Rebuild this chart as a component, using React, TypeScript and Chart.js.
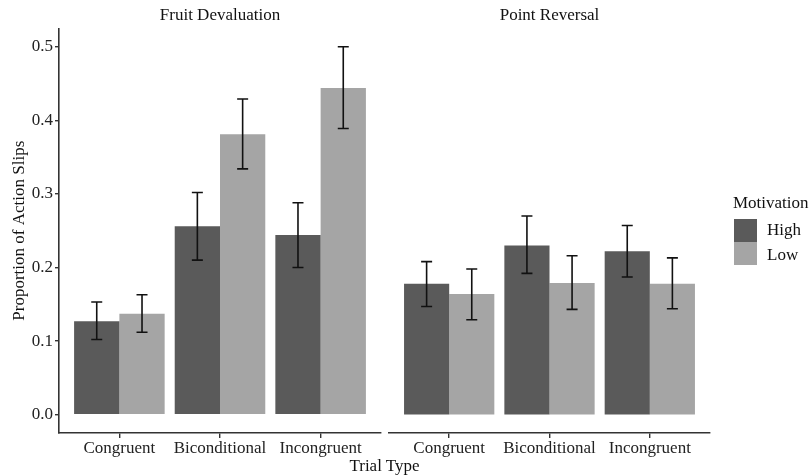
import React, { useEffect, useRef } from "react";
import { Chart, registerables } from "chart.js";

Chart.register(...registerables);

const categories = ["Congruent", "Biconditional", "Incongruent"];
const seriesNames = ["High", "Low"];
const panelTitles = ["Fruit Devaluation", "Point Reversal"];
const yTicks = [0, 0.1, 0.2, 0.3, 0.4, 0.5];

// Fruit Devaluation
const fruitHigh = [0.127, 0.256, 0.244];
const fruitHighLo = [0.102, 0.21, 0.2];
const fruitHighHi = [0.153, 0.302, 0.288];
const fruitLow = [0.137, 0.381, 0.444];
const fruitLowLo = [0.112, 0.334, 0.389];
const fruitLowHi = [0.163, 0.429, 0.5];

// Point Reversal
const pointHigh = [0.178, 0.23, 0.222];
const pointHighLo = [0.147, 0.192, 0.187];
const pointHighHi = [0.208, 0.27, 0.257];
const pointLow = [0.164, 0.179, 0.178];
const pointLowLo = [0.129, 0.143, 0.144];
const pointLowHi = [0.198, 0.216, 0.213];

const FONT = "'Liberation Serif', 'Times New Roman', serif";
const DARK = "#5a5a5a";
const LIGHT = "#a5a5a5";
const AXIS = "#333333";

const errorBarPlugin = {
  id: "errorBars",
  afterDatasetsDraw(chart: any) {
    const ctx = chart.ctx;
    const y = chart.scales.y;
    ctx.save();
    ctx.strokeStyle = "#111111";
    ctx.lineWidth = 1.6;
    chart.data.datasets.forEach((ds: any, i: number) => {
      const meta = chart.getDatasetMeta(i);
      meta.data.forEach((el: any, j: number) => {
        const lo = y.getPixelForValue(ds.errLo[j]);
        const hi = y.getPixelForValue(ds.errHi[j]);
        const x = el.x;
        const half = 5.5;
        ctx.beginPath();
        ctx.moveTo(x, lo);
        ctx.lineTo(x, hi);
        ctx.moveTo(x - half, lo);
        ctx.lineTo(x + half, lo);
        ctx.moveTo(x - half, hi);
        ctx.lineTo(x + half, hi);
        ctx.stroke();
      });
    });
    ctx.restore();
  },
};

function makeConfig(
  title: string,
  high: number[],
  highLo: number[],
  highHi: number[],
  low: number[],
  lowLo: number[],
  lowHi: number[],
  showY: boolean,
  padding: any
): any {
  const toPts = (arr: number[]) => arr.map((v, i) => ({ x: i, y: v }));
  return {
    type: "bar",
    data: {
      datasets: [
        {
          label: seriesNames[0],
          data: toPts(high),
          errLo: highLo,
          errHi: highHi,
          backgroundColor: DARK,
          borderWidth: 0,
          barPercentage: 1,
          categoryPercentage: 0.9,
        },
        {
          label: seriesNames[1],
          data: toPts(low),
          errLo: lowLo,
          errHi: lowHi,
          backgroundColor: LIGHT,
          borderWidth: 0,
          barPercentage: 1,
          categoryPercentage: 0.9,
        },
      ],
    },
    options: {
      animation: false,
      responsive: false,
      maintainAspectRatio: false,
      layout: { padding },
      plugins: {
        legend: { display: false },
        tooltip: { enabled: false },
        title: {
          display: true,
          text: title,
          fullSize: false,
          color: "#111111",
          font: { family: FONT, size: 17, weight: "normal" },
          padding: { top: 5, bottom: 3 },
        },
      },
      scales: {
        x: {
          type: "linear",
          offset: false,
          min: -0.6,
          max: 2.6,
          afterBuildTicks: (s: any) => {
            s.ticks = categories.map((_, i) => ({ value: i }));
          },
          afterFit: (s: any) => {
            s.height = 43;
          },
          ticks: {
            autoSkip: false,
            maxRotation: 0,
            padding: 0,
            color: "#222222",
            font: { family: FONT, size: 17 },
            callback: (v: any) => categories[Math.round(Number(v))],
          },
          grid: {
            display: true,
            offset: false,
            drawOnChartArea: false,
            drawTicks: true,
            tickLength: 5,
            color: AXIS,
            lineWidth: 1.4,
          },
          border: { display: true, color: AXIS, width: 1.6 },
        },
        y: {
          type: "linear",
          display: showY,
          min: -0.025,
          max: 0.525,
          afterBuildTicks: (s: any) => {
            s.ticks = yTicks.map((v) => ({ value: v }));
          },
          afterFit: (s: any) => {
            if (showY) s.width = 59;
          },
          ticks: {
            padding: 2,
            color: "#222222",
            font: { family: FONT, size: 17 },
            callback: (v: any) => Number(v).toFixed(1),
          },
          grid: {
            display: true,
            drawOnChartArea: false,
            drawTicks: true,
            tickLength: 4,
            color: AXIS,
            lineWidth: 1.4,
          },
          border: { display: true, color: AXIS, width: 1.6 },
          title: {
            display: true,
            text: "Proportion of Action Slips",
            color: "#111111",
            font: { family: FONT, size: 17 },
            padding: { top: 9, bottom: 0 },
          },
        },
      },
    },
    plugins: [errorBarPlugin],
  };
}

export default function App() {
  const leftRef = useRef<HTMLCanvasElement | null>(null);
  const rightRef = useRef<HTMLCanvasElement | null>(null);

  useEffect(() => {
    const left = new Chart(
      leftRef.current as HTMLCanvasElement,
      makeConfig(
        panelTitles[0],
        fruitHigh,
        fruitHighLo,
        fruitHighHi,
        fruitLow,
        fruitLowLo,
        fruitLowHi,
        true,
        { left: 0, right: 810 - 381, top: 0, bottom: 0 }
      )
    );
    const right = new Chart(
      rightRef.current as HTMLCanvasElement,
      makeConfig(
        panelTitles[1],
        pointHigh,
        pointHighLo,
        pointHighHi,
        pointLow,
        pointLowLo,
        pointLowHi,
        false,
        { left: 389, right: 100, top: 0, bottom: 0 }
      )
    );
    return () => {
      left.destroy();
      right.destroy();
    };
  }, []);

  const canvasStyle: React.CSSProperties = {
    position: "absolute",
    left: 0,
    top: 0,
    display: "block",
  };
  const text: React.CSSProperties = {
    position: "absolute",
    fontFamily: FONT,
    fontSize: 17,
    lineHeight: "20px",
    color: "#111111",
    whiteSpace: "nowrap",
  };

  return (
    <div
      style={{
        position: "absolute",
        left: 0,
        top: 0,
        width: 810,
        height: 476,
        background: "#ffffff",
        overflow: "hidden",
      }}
    >
      <canvas ref={leftRef} width={810} height={476} style={canvasStyle} />
      <canvas ref={rightRef} width={810} height={476} style={canvasStyle} />
      <div style={{ ...text, left: 334, width: 101, top: 456, textAlign: "center" }}>
        Trial Type
      </div>
      <div style={{ ...text, left: 733, top: 193 }}>Motivation</div>
      <div
        style={{
          position: "absolute",
          left: 734,
          top: 219,
          width: 23,
          height: 23,
          background: DARK,
        }}
      />
      <div
        style={{
          position: "absolute",
          left: 734,
          top: 242,
          width: 23,
          height: 23,
          background: LIGHT,
        }}
      />
      <div style={{ ...text, left: 767, top: 220 }}>{seriesNames[0]}</div>
      <div style={{ ...text, left: 767, top: 245 }}>{seriesNames[1]}</div>
    </div>
  );
}
